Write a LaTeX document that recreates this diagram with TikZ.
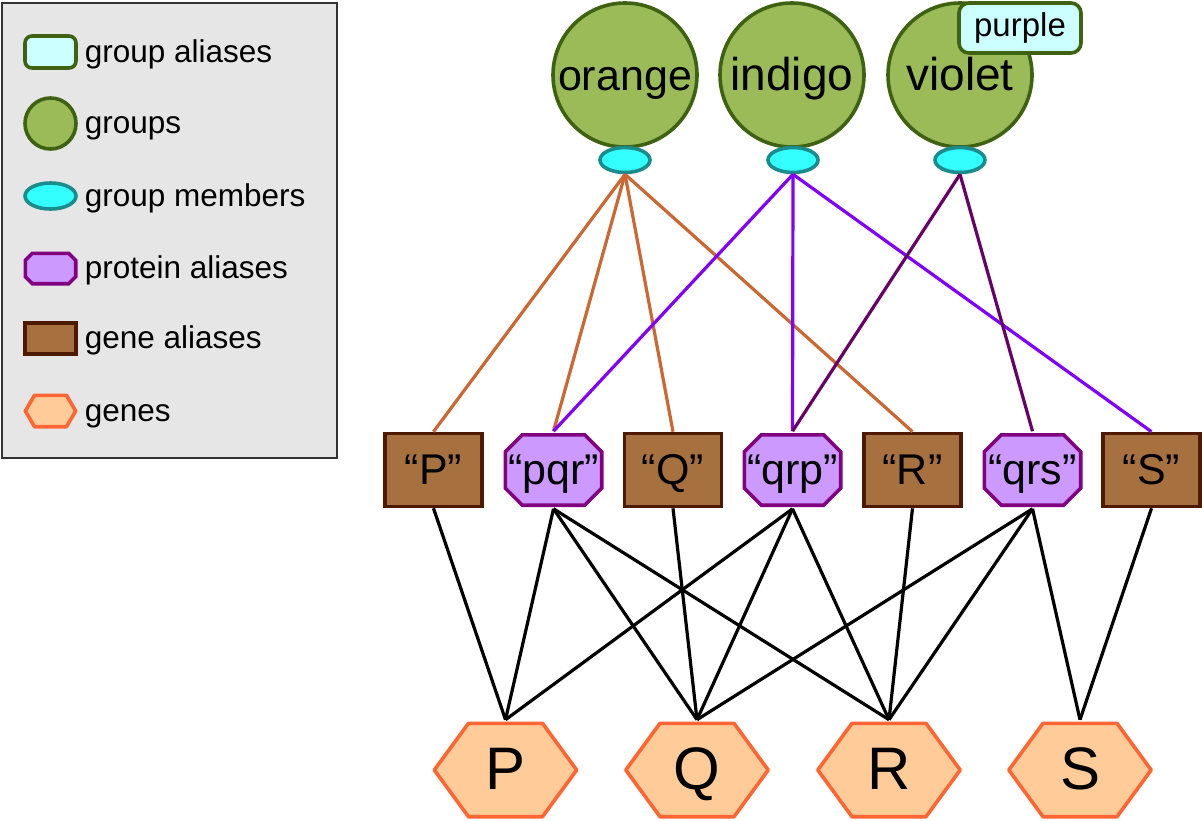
\documentclass[tikz,border=0pt]{standalone}
\usepackage{fontspec}
\setmainfont{Liberation Sans}
\usetikzlibrary{shapes.geometric}

\definecolor{grpfill}{HTML}{9BBB59}
\definecolor{grpdraw}{HTML}{3F6212}
\definecolor{aliasfill}{HTML}{CCFFFF}
\definecolor{memfill}{HTML}{33FFFF}
\definecolor{memdraw}{HTML}{1A8C8C}
\definecolor{protfill}{HTML}{CC99FF}
\definecolor{protdraw}{HTML}{800080}
\definecolor{genalfill}{HTML}{A6713F}
\definecolor{genaldraw}{HTML}{4D1A00}
\definecolor{genefill}{HTML}{FFCC99}
\definecolor{genedraw}{HTML}{FF6633}
\definecolor{orangeline}{HTML}{CC6633}
\definecolor{indigoline}{HTML}{8000FF}
\definecolor{violetline}{HTML}{660066}
\definecolor{legendfill}{HTML}{E6E6E6}

\tikzset{
  % octagon drawn inside the node box, #1 = chamfer
  octa/.style={path picture={\draw[fill=protfill,draw=protdraw,line width=3.6pt]
    ([shift={(1.8pt,#1+1.8pt)}]path picture bounding box.south west)
    -- ([shift={(1.8pt,-#1-1.8pt)}]path picture bounding box.north west)
    -- ([shift={(#1+1.8pt,-1.8pt)}]path picture bounding box.north west)
    -- ([shift={(-#1-1.8pt,-1.8pt)}]path picture bounding box.north east)
    -- ([shift={(-1.8pt,-#1-1.8pt)}]path picture bounding box.north east)
    -- ([shift={(-1.8pt,#1+1.8pt)}]path picture bounding box.south east)
    -- ([shift={(-#1-1.8pt,1.8pt)}]path picture bounding box.south east)
    -- ([shift={(#1+1.8pt,1.8pt)}]path picture bounding box.south west) -- cycle;}},
  % hexagon drawn inside the node box, #1 = tip length
  hexa/.style={path picture={\draw[fill=genefill,draw=genedraw,line width=3.6pt,line join=round]
    ([xshift=1.8pt]path picture bounding box.west)
    -- ([shift={(#1,-1.8pt)}]path picture bounding box.north west)
    -- ([shift={(-#1,-1.8pt)}]path picture bounding box.north east)
    -- ([xshift=-1.8pt]path picture bounding box.east)
    -- ([shift={(-#1,1.8pt)}]path picture bounding box.south east)
    -- ([shift={(#1,1.8pt)}]path picture bounding box.south west) -- cycle;}},
  icon/.style={text height=0pt,text depth=0pt}
}

\begin{document}
\begin{tikzpicture}[x=1pt,y=-1pt,line width=3.6pt,inner sep=0pt,
  group node/.style={circle,fill=grpfill,draw=grpdraw,minimum size=144pt,font=\fontsize{46}{50}\selectfont,text height=33pt,text depth=3pt},
  alias node/.style={rectangle,rounded corners=10pt,fill=aliasfill,draw=grpdraw,minimum width=122pt,minimum height=50pt,font=\fontsize{33}{36}\selectfont,text height=24pt,text depth=7pt},
  member node/.style={ellipse,fill=memfill,draw=memdraw,minimum width=50pt,minimum height=25pt},
  prot node/.style={rectangle,octa=17pt,minimum width=100pt,minimum height=74pt,font=\fontsize{43}{46}\selectfont,text height=31pt,text depth=3pt},
  genal node/.style={rectangle,fill=genalfill,draw=genaldraw,minimum width=97pt,minimum height=73pt,font=\fontsize{43}{46}\selectfont,text height=31pt,text depth=3pt},
  gene node/.style={rectangle,hexa=36pt,minimum width=146pt,minimum height=97pt,font=\fontsize{60}{64}\selectfont,text height=43pt,text depth=5pt},
  legend text/.style={anchor=west,font=\fontsize{31.5}{36}\selectfont,text height=25pt,text depth=5pt},
  link/.style={line width=3.2pt}]

  \useasboundingbox (0,0) rectangle (1202,820);

  % legend
  \draw[fill=legendfill,draw=black!80,line width=2pt] (2,3) rectangle (337,458);
  \node[alias node,icon,minimum width=51pt,minimum height=32pt,rounded corners=7pt] (l1) at (50.5,52) {};
  \node[group node,icon,minimum size=51pt] (l2) at (50.5,123.5) {};
  \node[member node,icon,minimum width=51pt,minimum height=26pt] (l3) at (50.5,196) {};
  \node[prot node,icon,minimum width=54pt,minimum height=34pt,octa=7pt] (l4) at (50.5,268.5) {};
  \node[genal node,icon,minimum width=51pt,minimum height=31pt] (l5) at (50.5,338.5) {};
  \node[gene node,icon,minimum width=54pt,minimum height=35pt,hexa=11pt] (l6) at (50.5,411) {};
  \node[legend text] at (83,52) {group aliases};
  \node[legend text] at (83,123.5) {groups};
  \node[legend text] at (83,196) {group members};
  \node[legend text] at (83,268.5) {protein aliases};
  \node[legend text] at (83,338.5) {gene aliases};
  \node[legend text] at (83,411) {genes};

  % groups
  \node[group node,font=\fontsize{43}{46}\selectfont] (o) at (625,75) {orange};
  \node[group node] (i) at (792,75) {indigo};
  \node[group node] (v) at (960,75) {violet};
  \node[alias node] (va) at (1020,28) {purple};
  \node[member node] (om) at (625,160) {};
  \node[member node] (im) at (793,160) {};
  \node[member node] (vm) at (960,160) {};

  % aliases
  \node[genal node] (aP) at (433.5,470) {“P”};
  \node[prot node]  (pqr) at (553.5,470) {“pqr”};
  \node[genal node] (aQ) at (673,470) {“Q”};
  \node[prot node]  (qrp) at (792.5,470) {“qrp”};
  \node[genal node] (aR) at (912.5,470) {“R”};
  \node[prot node]  (qrs) at (1032.5,470) {“qrs”};
  \node[genal node] (aS) at (1151.5,470) {“S”};

  % genes
  \node[gene node] (P) at (505.5,770) {P};
  \node[gene node] (Q) at (697,770) {Q};
  \node[gene node] (R) at (889,770) {R};
  \node[gene node] (S) at (1080,770) {S};

  \path[every edge/.style={draw,link}]
    (om.south) edge[orangeline] (aP.north)
    (om.south) edge[orangeline] (pqr.north)
    (om.south) edge[orangeline] (aQ.north)
    (om.south) edge[orangeline] (aR.north)
    (im.south) edge[indigoline] (pqr.north)
    (im.south) edge[indigoline] (qrp.north)
    (im.south) edge[indigoline] (aS.north)
    (vm.south) edge[violetline] (qrp.north)
    (vm.south) edge[violetline] (qrs.north)
    % alias to gene
    (aP.south) edge (P.north)
    (pqr.south) edge (P.north)
    (pqr.south) edge (Q.north)
    (pqr.south) edge (R.north)
    (aQ.south) edge (Q.north)
    (qrp.south) edge (P.north)
    (qrp.south) edge (Q.north)
    (qrp.south) edge (R.north)
    (aR.south) edge (R.north)
    (qrs.south) edge (Q.north)
    (qrs.south) edge (R.north)
    (qrs.south) edge (S.north)
    (aS.south) edge (S.north);

\end{tikzpicture}
\end{document}
